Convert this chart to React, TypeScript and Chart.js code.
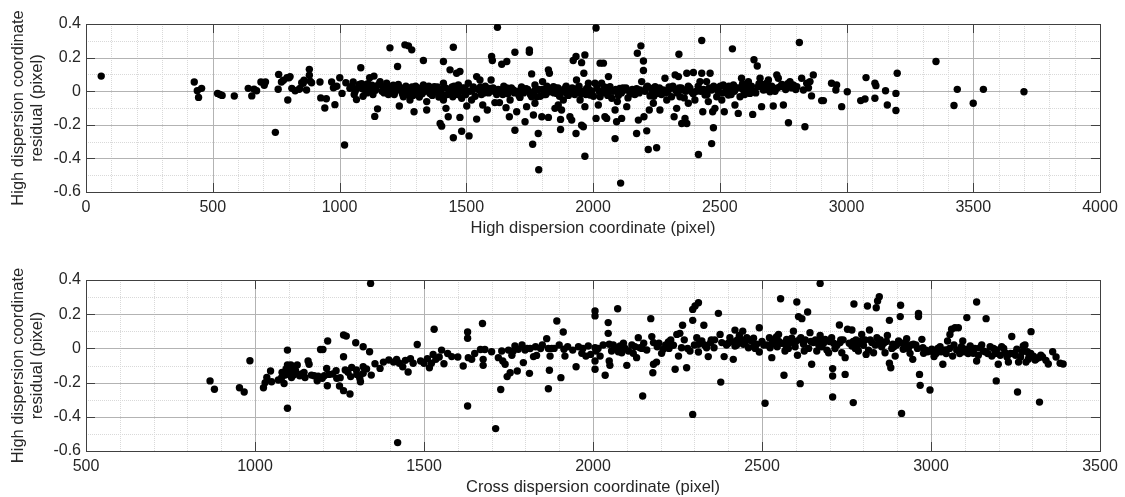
import React, { useEffect, useRef } from "react";
import { Chart, registerables } from "chart.js";

Chart.register(...registerables);

// ---------- DATA ----------
const topXTicks = [0, 500, 1000, 1500, 2000, 2500, 3000, 3500, 4000];
const bottomXTicks = [500, 1000, 1500, 2000, 2500, 3000, 3500];
const yTicks = [-0.6, -0.4, -0.2, 0, 0.2, 0.4];

const topTitleX = "High dispersion coordinate (pixel)";
const bottomTitleX = "Cross dispersion coordinate (pixel)";
const titleY = ["High dispersion coordinate", "residual (pixel)"];

// top panel: [high dispersion coordinate, residual]
const topResiduals: [number, number][] = [
  [60, 0.09], [427, 0.055], [439, 0.003], [444, -0.037], [456, 0.017], [519, -0.013], [528, -0.02], [537, -0.025],
  [585, -0.029], [640, 0.017], [654, -0.028], [663, 0.012], [673, 0.003], [690, 0.055], [703, 0.035], [708, 0.055],
  [747, -0.245], [760, 0.1], [758, 0.012], [771, 0.055], [779, 0.065], [793, 0.08], [796, -0.052], [801, 0.08],
  [812, 0.017], [825, 0.003], [841, 0.012], [851, 0.05], [860, 0.065], [870, 0.007], [881, 0.13], [881, 0.095],
  [890, 0.05], [884, 0.06], [923, 0.055], [926, -0.04], [942, -0.1], [948, -0.045], [969, 0.055], [982, -0.08],
  [976, 0.02], [989, 0.03], [1001, 0.08], [1010, -0.013], [1020, -0.32], [1025, 0.05], [1041, 0.017], [1054, 0.055],
  [1067, -0.05], [1084, 0.14], [1087, 0.045], [1093, -0.03], [1106, 0.025], [1119, 0.08], [1132, -0.02], [1139, -0.15],
  [1150, -0.105], [805, 0.087], [844, 0.017], [857, 0.047], [982, 0.027], [1081, 0.027], [1101, 0.037], [1114, -0.003],
  [1136, 0.09], [1160, 0.057], [1173, 0.027], [1186, 0.047], [1199, 0.258], [1206, 0.017], [1219, -0.003], [1229, 0.147],
  [1236, -0.088], [1252, -0.033], [1258, 0.276], [1272, 0.27], [1285, 0.246], [1265, -0.003], [1278, -0.052], [1294, -0.122],
  [1304, -0.013], [1331, 0.183], [1331, 0.037], [1344, -0.062], [1344, -0.112], [1357, -0.013], [1374, 0.027], [1397, -0.192],
  [1403, -0.208], [1410, 0.177], [1410, 0.047], [1410, -0.052], [1420, -0.102], [1429, -0.152], [1436, 0.127], [1449, 0.262],
  [1449, -0.277], [1447, -0.033], [1456, -0.003], [1462, 0.107], [1469, 0.037], [1475, 0.117], [1475, -0.156], [1482, -0.238],
  [1482, -0.042], [1489, -0.003], [1502, -0.088], [1508, 0.047], [1511, -0.266], [1521, -0.052], [1541, 0.087], [1541, -0.166],
  [1554, 0.067], [1567, 0.007], [1565, -0.082], [1583, -0.112], [1594, 0.017], [1598, 0.067], [1600, 0.207], [1603, 0.183],
  [1613, -0.068], [1623, 0.38], [1631, -0.068], [1640, 0.16], [1653, 0.007], [1660, 0.177], [1657, -0.098], [1670, -0.152],
  [1673, -0.052], [1686, 0.007], [1692, 0.232], [1692, -0.232], [1699, -0.122], [1712, -0.037], [1732, -0.182], [1738, -0.092],
  [1749, 0.246], [1749, 0.232], [1758, 0.103], [1762, -0.316], [1765, -0.142], [1771, 0.037], [1778, -0.033], [1784, -0.252],
  [1786, -0.468], [1758, -0.033], [1771, -0.072], [1798, -0.152], [1801, 0.057], [1811, 0.007], [1824, -0.156], [1824, 0.127],
  [1828, 0.107], [1830, -0.003], [1844, 0.027], [1850, -0.102], [1857, -0.013], [1863, -0.082], [1872, -0.168], [1876, -0.112],
  [1872, -0.228], [1883, -0.052], [1896, -0.013], [1909, -0.152], [1916, -0.172], [1922, 0.183], [1933, 0.207], [1933, -0.252],
  [1935, 0.067], [1942, -0.003], [1949, -0.052], [1955, 0.17], [1955, -0.202], [1962, -0.212], [1964, 0.107], [1968, 0.216],
  [1968, -0.387], [1968, -0.092], [1975, 0.017], [1982, 0.047], [1988, -0.023], [2008, 0.047], [2012, 0.376], [2012, -0.162],
  [2028, 0.167], [2034, 0.047], [2041, 0.167], [2021, -0.082], [2028, -0.033], [2047, -0.152], [2054, -0.162], [2061, 0.087],
  [2067, 0.027], [2074, -0.042], [2087, -0.282], [2087, -0.112], [2093, -0.182], [2096, -0.062], [2106, 0.017], [2109, -0.547],
  [2113, -0.162], [2126, 0.007], [2133, -0.092], [2146, -0.013], [2172, -0.252], [2175, 0.226], [2179, -0.172], [2189, 0.27],
  [2185, 0.007], [2192, 0.057], [2199, 0.18], [2199, 0.123], [2201, -0.152], [2212, -0.236], [2218, -0.347], [2222, -0.112],
  [2225, -0.028], [2231, 0.017], [2238, -0.072], [2245, 0.027], [2251, -0.337], [2258, -0.013], [2264, -0.112], [2277, 0.007],
  [2284, 0.077], [2291, -0.052], [2304, 0.017], [2310, -0.033], [2320, -0.152], [2324, 0.097], [2330, -0.102], [2339, 0.22],
  [2337, 0.087], [2343, -0.033], [2350, -0.192], [2356, 0.007], [2363, -0.162], [2370, -0.192], [2370, 0.107], [2376, -0.072],
  [2389, -0.003], [2396, 0.111], [2402, -0.052], [2416, -0.377], [2422, 0.057], [2429, 0.302], [2429, 0.107], [2433, -0.122],
  [2442, -0.023], [2448, 0.057], [2455, -0.062], [2462, 0.107], [2468, 0.007], [2468, -0.312], [2475, -0.218], [2472, -0.122],
  [2481, -0.102], [2488, -0.033], [2508, -0.052], [2514, 0.037], [2518, -0.122], [2534, -0.023], [2541, 0.017], [2550, 0.252],
  [2554, 0.037], [2560, -0.082], [2573, -0.132], [2580, -0.033], [2586, 0.077], [2593, 0.007], [2604, 0.037], [2613, 0.057],
  [2619, -0.013], [2630, -0.138], [2635, 0.187], [2648, 0.15], [2652, 0.027], [2659, 0.077], [2665, -0.092], [2672, 0.007],
  [2685, 0.047], [2692, 0.067], [2698, -0.003], [2711, -0.088], [2725, 0.097], [2731, 0.077], [2738, 0.027], [2751, -0.082],
  [2771, -0.188], [2777, 0.057], [2790, 0.037], [2804, 0.027], [2814, 0.29], [2823, 0.077], [2830, 0.007], [2836, -0.212],
  [2843, 0.047], [2856, 0.057], [2869, 0.097], [2862, -0.028], [2902, -0.056], [2909, -0.056], [2941, 0.047], [2961, 0.037],
  [2958, 0.007], [2981, -0.092], [3003, -0.003], [3056, -0.056], [3073, -0.046], [3077, 0.081], [3112, 0.047], [3116, 0.033],
  [3112, -0.042], [3154, 0.003], [3161, -0.082], [3195, -0.013], [3195, -0.115], [3200, 0.107], [3353, 0.177], [3424, -0.085],
  [3437, 0.011], [3500, -0.072], [3540, 0.011], [3700, -0.003],
  [1048, 0.03], [1062, 0.0], [1072, 0.02], [1098, 0.01], [1112, 0.045], [1124, 0.015], [1146, 0.03], [1168, 0.0],
  [1180, 0.02], [1193, -0.02], [1212, 0.035], [1226, 0.01], [1242, 0.02], [1248, -0.015], [1262, 0.03], [1280, 0.0],
  [1290, -0.025], [1300, 0.03], [1315, -0.035], [1322, 0.01], [1338, 0.0], [1352, 0.03], [1366, -0.025], [1382, 0.0],
  [1392, -0.035], [1402, 0.01], [1418, 0.02], [1426, -0.02], [1440, 0.0], [1452, 0.03], [1466, -0.02], [1478, 0.01],
  [1495, 0.02], [1515, 0.0], [1528, 0.025], [1535, -0.03], [1548, 0.01], [1560, -0.02], [1575, 0.03], [1588, -0.01],
  [1606, 0.02], [1620, -0.02], [1635, 0.0], [1648, 0.03], [1664, -0.015], [1678, 0.02], [1705, 0.0], [1718, 0.025],
  [1726, -0.01], [1742, 0.01], [1753, -0.02], [1785, 0.01], [1792, -0.03], [1808, -0.02], [1818, 0.03], [1837, 0.0],
  [1852, 0.02], [1868, -0.03], [1888, 0.015], [1903, -0.025], [1918, 0.02], [1928, -0.02], [1945, 0.03], [1958, 0.0],
  [1995, 0.0], [2002, -0.03], [2016, 0.02], [2036, -0.01], [2052, 0.01], [2080, 0.0], [2100, -0.025], [2118, 0.02],
  [2138, -0.04], [2155, 0.01], [2165, -0.02], [2205, 0.0], [2215, 0.03], [2240, -0.03], [2252, 0.01], [2270, -0.02],
  [2296, 0.0], [2315, 0.03], [2333, -0.01], [2348, 0.02], [2360, -0.04], [2382, 0.02], [2408, 0.0], [2415, 0.03],
  [2436, 0.01], [2450, -0.02], [2476, 0.03], [2494, 0.0], [2502, 0.03], [2526, 0.01], [2545, -0.02], [2566, 0.02],
  [2598, -0.02], [2608, 0.01], [2625, 0.03], [2642, -0.01], [2668, 0.04], [2680, 0.01], [2705, 0.03], [2718, 0.0],
  [2745, 0.04], [2760, 0.01], [2783, 0.02],
  [1058, -0.02], [1078, 0.04], [1090, 0.015], [1108, -0.01], [1128, 0.035], [1142, 0.005], [1155, 0.04], [1176, -0.01],
  [1190, 0.03], [1202, 0.005], [1216, -0.02], [1232, 0.04], [1245, 0.0], [1256, 0.015], [1270, -0.02], [1286, 0.025],
  [1296, 0.005], [1310, 0.02], [1326, -0.015], [1334, 0.025], [1347, 0.01], [1360, 0.015], [1372, -0.005], [1386, 0.025],
  [1398, -0.01], [1414, -0.025], [1432, 0.01], [1444, 0.025], [1459, -0.015], [1472, 0.015], [1486, 0.02], [1498, -0.02],
  [1524, 0.005], [1556, 0.025], [1570, -0.01], [1580, 0.005], [1610, 0.0], [1626, 0.01], [1644, -0.02], [1660, 0.02],
  [1690, -0.01], [1708, -0.025], [1736, 0.015], [1768, 0.0], [1800, 0.01], [1814, -0.02], [1846, -0.01], [1862, 0.02],
  [1880, -0.005], [1894, 0.03], [1912, 0.0], [1938, 0.015], [1952, -0.015], [1972, -0.02], [1985, 0.01], [2024, 0.0],
  [2045, 0.025], [2058, -0.025], [2070, 0.0], [2090, 0.01], [2112, -0.01], [2130, 0.02], [2150, -0.015], [2172, 0.015],
  [2182, -0.01], [2210, 0.02], [2232, -0.015], [2262, 0.02], [2286, -0.01], [2300, 0.025], [2326, 0.005], [2340, 0.02],
  [2366, 0.0], [2376, 0.03], [2395, -0.015], [2425, 0.0], [2458, 0.02], [2485, 0.015], [2512, -0.01], [2536, 0.03],
  [2558, 0.0], [2576, 0.02], [2590, 0.045], [2615, 0.02], [2634, 0.0], [2655, 0.045], [2675, 0.03], [2695, 0.02],
  [2728, 0.02], [2755, 0.03], [2768, 0.045], [2800, 0.01], [2850, 0.02],
];

// bottom panel: [cross dispersion coordinate, residual]
const bottomResiduals: [number, number][] = [
  [867, -0.19], [880, -0.239], [954, -0.23], [968, -0.255], [985, -0.072], [1025, -0.23], [1030, -0.2], [1035, -0.17],
  [1046, -0.132], [1049, -0.195], [1069, -0.185], [1079, -0.17], [1086, -0.205], [1089, -0.156], [1096, -0.01], [1096, -0.35],
  [1096, -0.097], [1099, -0.136], [1104, -0.156], [1106, -0.097], [1112, -0.122], [1114, -0.156], [1125, -0.097], [1138, -0.15],
  [1148, -0.17], [1157, -0.074], [1160, -0.093], [1167, -0.156], [1184, -0.189], [1187, -0.162], [1194, -0.006], [1201, -0.006],
  [1199, -0.175], [1212, -0.117], [1215, 0.043], [1214, -0.218], [1219, -0.152], [1242, -0.175], [1250, -0.22], [1252, -0.171],
  [1262, -0.049], [1262, 0.078], [1270, 0.072], [1262, -0.247], [1267, -0.126], [1281, -0.267], [1283, -0.165], [1286, -0.111],
  [1298, 0.033], [1300, -0.126], [1310, -0.175], [1312, -0.195], [1320, -0.107], [1320, 0.01], [1320, -0.146], [1339, -0.02],
  [1342, 0.38], [1344, -0.156], [1370, -0.117], [1301, -0.152], [1396, -0.068], [1419, -0.064], [1422, -0.551], [1427, -0.087],
  [1437, -0.107], [1453, -0.138], [1468, -0.087], [1480, 0.023], [1490, -0.074], [1500, -0.087], [1516, -0.113], [1522, -0.087],
  [1527, -0.035], [1530, 0.112], [1535, -0.064], [1552, -0.01], [1559, -0.09], [1582, -0.048], [1616, -0.103], [1629, -0.337],
  [1629, 0.096], [1629, 0.059], [1631, -0.054], [1641, -0.064], [1673, 0.146], [1667, -0.006], [1680, -0.006], [1675, -0.064],
  [1675, -0.099], [1712, -0.469], [1727, -0.24], [1720, -0.054], [1730, -0.015], [1733, -0.074], [1740, -0.093], [1746, -0.165],
  [1755, -0.142], [1764, -0.015], [1769, 0.014], [1776, -0.132], [1779, -0.005], [1794, -0.083], [1799, -0.009], [1812, -0.146],
  [1814, -0.001], [1824, -0.048], [1833, -0.041], [1845, -0.001], [1863, 0.057], [1868, -0.001], [1868, -0.236], [1871, -0.128],
  [1873, -0.045], [1878, -0.001], [1893, 0.16], [1905, -0.171], [1912, 0.096], [1914, -0.005], [1917, -0.045], [1950, -0.107],
  [1957, 0.01], [1967, -0.029], [1979, -0.045], [1986, 0.014], [1993, -0.035], [2006, 0.219], [2006, 0.19], [2006, 0.004],
  [2006, -0.074], [2006, -0.122], [2009, -0.015], [2021, -0.045], [2036, -0.157], [2045, 0.151], [2045, 0.088], [2048, 0.024],
  [2048, -0.074], [2050, -0.099], [2055, -0.015], [2065, 0.004], [2073, 0.232], [2080, 0.014], [2085, -0.025], [2090, 0.03],
  [2100, -0.099], [2105, -0.015], [2119, -0.029], [2124, 0.01], [2129, -0.054], [2134, 0.063], [2139, 0.004], [2147, -0.278],
  [2159, -0.009], [2171, 0.174], [2174, 0.069], [2177, -0.142], [2179, 0.034], [2179, -0.093], [2188, -0.08], [2203, -0.029],
  [2208, -0.005], [2223, 0.038], [2230, 0.049], [2238, 0.018], [2243, -0.122], [2248, 0.082], [2253, -0.045], [2257, 0.088],
  [2262, 0.004], [2265, 0.135], [2277, -0.113], [2287, -0.015], [2295, 0.228], [2295, 0.164], [2295, -0.386], [2302, 0.248],
  [2312, 0.267], [2307, 0.063], [2312, 0.024], [2312, -0.021], [2322, 0.043], [2328, 0.135], [2336, 0.004], [2341, -0.048],
  [2348, 0.034], [2358, 0.004], [2371, 0.205], [2376, 0.082], [2378, -0.197], [2381, 0.034], [2388, -0.048], [2405, 0.063],
  [2415, -0.064], [2420, 0.107], [2420, 0.014], [2427, 0.049], [2433, 0.076], [2437, 0.034], [2443, 0.101], [2445, 0.024],
  [2455, 0.063], [2460, 0.004], [2470, 0.043], [2476, 0.01], [2484, 0.024], [2492, 0.121], [2492, -0.021], [2509, -0.321],
  [2522, 0.063], [2529, -0.054], [2524, 0.004], [2543, 0.069], [2555, 0.29], [2539, 0.024], [2549, 0.082], [2565, -0.157],
  [2568, -0.015], [2573, 0.053], [2583, 0.034], [2593, 0.101], [2598, 0.01], [2603, 0.271], [2605, -0.04], [2608, 0.186],
  [2613, -0.206], [2615, 0.063], [2618, 0.174], [2623, 0.024], [2625, -0.015], [2635, 0.213], [2642, 0.092], [2647, -0.093],
  [2652, 0.034], [2662, -0.015], [2672, 0.38], [2672, 0.076], [2677, 0.01], [2687, 0.053], [2697, -0.025], [2706, 0.063],
  [2709, -0.118], [2709, -0.161], [2709, -0.284], [2716, -0.001], [2729, 0.137], [2731, 0.034], [2736, -0.025], [2746, -0.054],
  [2746, -0.152], [2753, 0.112], [2766, 0.108], [2766, 0.014], [2770, -0.317], [2772, 0.26], [2778, 0.049], [2785, -0.015],
  [2795, 0.082], [2800, 0.018], [2808, -0.035], [2812, 0.248], [2818, 0.108], [2825, 0.034], [2830, -0.025], [2838, 0.238],
  [2842, 0.277], [2847, 0.302], [2840, 0.063], [2854, 0.01], [2864, -0.025], [2871, 0.076], [2877, 0.164], [2877, -0.087],
  [2881, -0.113], [2887, 0.024], [2894, -0.045], [2904, 0.043], [2909, 0.186], [2910, 0.252], [2913, -0.38], [2918, -0.005],
  [2928, 0.057], [2938, -0.029], [2946, -0.064], [2948, 0.024], [2963, 0.205], [2963, 0.186], [2966, -0.152], [2968, -0.216],
  [2973, 0.053], [2976, 0.004], [2978, -0.029], [2997, -0.243], [3002, -0.005], [3009, -0.048], [3027, 0.01], [3035, -0.093],
  [3042, -0.009], [3049, 0.043], [3056, 0.082], [3061, 0.112], [3071, 0.121], [3081, 0.121], [3064, -0.045], [3076, -0.009],
  [3094, 0.043], [3101, -0.005], [3106, 0.18], [3116, 0.014], [3125, -0.029], [3135, 0.271], [3135, -0.074], [3145, 0.004],
  [3155, -0.015], [3163, 0.174], [3175, 0.01], [3180, -0.045], [3193, -0.19], [3194, -0.009], [3199, -0.093], [3209, 0.01],
  [3219, -0.025], [3229, -0.08], [3239, 0.07], [3254, -0.005], [3256, -0.255], [3259, -0.08], [3273, 0.014], [3281, -0.08],
  [3288, -0.064], [3296, 0.098], [3303, -0.045], [3318, -0.054], [3321, -0.314], [3278, 0.02], [3285, -0.02], [3308, -0.068],
  [3347, -0.091], [3360, -0.02], [3382, -0.087], [3391, -0.091],
  [2450, 0.03], [2465, 0.05], [2480, 0.0], [2500, 0.04], [2515, 0.02], [2535, 0.05], [2545, 0.01], [2558, 0.03],
  [2578, 0.0], [2588, 0.06], [2600, 0.04], [2628, 0.05], [2638, 0.0], [2658, 0.05], [2668, 0.02], [2682, 0.03],
  [2692, -0.01], [2700, 0.04], [2722, 0.02], [2740, 0.05], [2758, 0.03], [2776, 0.0], [2790, 0.04], [2805, 0.05],
  [2815, -0.01], [2835, 0.02], [2850, 0.05], [2860, 0.03], [2884, 0.0], [2898, 0.02], [2922, 0.03], [2933, 0.0],
  [2955, 0.02], [2985, -0.01], [3015, -0.03], [3020, 0.0], [3045, -0.03], [3068, 0.02], [3085, -0.03], [3090, 0.01],
  [3110, -0.03], [3130, 0.0], [3140, -0.04], [3150, 0.02], [3168, -0.03], [3185, 0.0], [3205, -0.04], [3215, 0.0],
  [3225, -0.05], [3245, -0.03], [3265, -0.05], [3270, -0.02], [3295, -0.03], [3312, -0.06], [3330, -0.05], [2360, 0.05],
  [2395, 0.02], [2410, 0.04], [2270, 0.05], [2280, 0.0], [2225, 0.0], [2195, 0.03], [2150, 0.03], [2115, 0.02],
  [2075, -0.02], [2030, 0.02], [1940, -0.01], [1900, 0.02], [1850, 0.02], [1790, 0.02], [1760, -0.04],
  [1080, -0.14], [1092, -0.12], [1108, -0.17], [1120, -0.13], [1132, -0.16], [1145, -0.14], [1175, -0.16], [1205, -0.16],
  [1230, -0.15], [1240, -0.13], [1275, -0.14], [1330, -0.12], [1355, -0.09], [1380, -0.08], [1410, -0.08], [1445, -0.07],
  [1460, -0.06], [1510, -0.06], [1545, -0.05], [1570, -0.03], [1600, -0.05], [1650, -0.03], [1700, -0.02], [1750, -0.01],
  [1805, 0.0], [1830, 0.01], [1885, 0.0], [1925, 0.01], [1970, 0.0], [2015, 0.0], [2060, 0.02], [2095, 0.0],
  [2145, 0.0], [2190, 0.01], [2215, 0.02], [2300, 0.02], [2330, 0.02], [2350, 0.05], [2400, 0.03], [2425, 0.02],
  [2440, 0.05], [2475, 0.06], [2505, 0.02], [2530, 0.03], [2550, 0.04], [2570, 0.02], [2610, 0.05], [2645, 0.04],
  [2675, 0.05], [2712, 0.03], [2733, 0.05], [2770, 0.04], [2783, 0.02], [2820, 0.05], [2845, 0.03], [2868, 0.04],
  [2890, 0.01], [2915, 0.03], [2940, 0.02], [2960, 0.0], [2990, -0.02], [3005, -0.02], [3030, -0.02], [3055, 0.0],
  [3098, -0.02], [3120, -0.01], [3160, -0.02], [3190, -0.03], [3235, -0.03], [3250, -0.04], [3290, -0.05], [3325, -0.04],
  [3340, -0.07], [3370, -0.05],
];

// ---------- STYLE ----------
const FONT = "'Liberation Sans', Arial, Helvetica, sans-serif";
const TEXT = "#262626";

const framePlugin = {
  id: "matlabFrame",
  beforeDatasetsDraw(chart: any, _args: any, opts: any) {
    const { ctx, chartArea: a, scales } = chart;
    const x = scales.x;
    const y = scales.y;
    const xMinor: number[] = opts.xMinor || [];
    const yMinor: number[] = opts.yMinor || [];
    const xMajor: number[] = opts.xMajor || [];
    const yMajor: number[] = opts.yMajor || [];
    ctx.save();
    ctx.strokeStyle = "#d9d9d9";
    ctx.lineWidth = 1;
    ctx.setLineDash([1, 1]);
    for (const v of xMinor) {
      const p = Math.round(x.getPixelForValue(v)) + 0.5;
      ctx.beginPath();
      ctx.moveTo(p, a.top);
      ctx.lineTo(p, a.bottom);
      ctx.stroke();
    }
    for (const v of yMinor) {
      const p = Math.round(y.getPixelForValue(v)) + 0.5;
      ctx.beginPath();
      ctx.moveTo(a.left, p);
      ctx.lineTo(a.right, p);
      ctx.stroke();
    }
    ctx.setLineDash([]);
    ctx.strokeStyle = "#b3b3b3";
    for (const v of xMajor) {
      const p = Math.round(x.getPixelForValue(v)) + 0.5;
      ctx.beginPath();
      ctx.moveTo(p, a.top);
      ctx.lineTo(p, a.bottom);
      ctx.stroke();
    }
    for (const v of yMajor) {
      const p = Math.round(y.getPixelForValue(v)) + 0.5;
      ctx.beginPath();
      ctx.moveTo(a.left, p);
      ctx.lineTo(a.right, p);
      ctx.stroke();
    }
    const TL = 9;
    ctx.strokeStyle = "#404040";
    for (const v of xMajor) {
      const p = Math.round(x.getPixelForValue(v)) + 0.5;
      ctx.beginPath();
      ctx.moveTo(p, a.bottom);
      ctx.lineTo(p, a.bottom - TL);
      ctx.moveTo(p, a.top);
      ctx.lineTo(p, a.top + TL);
      ctx.stroke();
    }
    for (const v of yMajor) {
      const p = Math.round(y.getPixelForValue(v)) + 0.5;
      ctx.beginPath();
      ctx.moveTo(a.left, p);
      ctx.lineTo(a.left + TL, p);
      ctx.moveTo(a.right, p);
      ctx.lineTo(a.right - TL, p);
      ctx.stroke();
    }
    ctx.strokeRect(
      Math.round(a.left) + 0.5,
      Math.round(a.top) + 0.5,
      Math.round(a.right) - Math.round(a.left),
      Math.round(a.bottom) - Math.round(a.top)
    );
    ctx.restore();
  },
};

function minorValues(min: number, max: number, step: number, every: number): number[] {
  const out: number[] = [];
  const n = Math.round((max - min) / step);
  for (let i = 0; i <= n; i++) {
    if (i % every === 0) continue;
    out.push(min + i * step);
  }
  return out;
}

function makeConfig(
  points: [number, number][],
  xTicks: number[],
  xTitle: string,
  padding: { top: number; right: number; bottom: number; left: number }
): any {
  const xMin = xTicks[0];
  const xMax = xTicks[xTicks.length - 1];
  const yMin = yTicks[0];
  const yMax = yTicks[yTicks.length - 1];
  return {
    type: "scatter",
    data: {
      datasets: [
        {
          data: points.map(([x, y]) => ({ x, y })),
          backgroundColor: "#000000",
          borderWidth: 0,
          pointRadius: 3.7,
          pointHoverRadius: 3.7,
        },
      ],
    },
    options: {
      responsive: false,
      animation: false,
      events: [],
      layout: { padding },
      plugins: {
        legend: { display: false },
        tooltip: { enabled: false },
        matlabFrame: {
          xMajor: xTicks,
          yMajor: yTicks,
          xMinor: minorValues(xMin, xMax, 100, 5),
          yMinor: minorValues(yMin, yMax, 0.1, 2),
        },
      },
      scales: {
        x: {
          type: "linear",
          min: xMin,
          max: xMax,
          afterBuildTicks: (s: any) => {
            s.ticks = xTicks.map((v) => ({ value: v }));
          },
          afterFit: (s: any) => {
            s.height = 46;
          },
          grid: { display: false, drawTicks: false },
          border: { display: false },
          ticks: {
            padding: 6,
            color: TEXT,
            font: { family: FONT, size: 16 },
            callback: (v: any) => String(v),
            maxRotation: 0,
          },
          title: {
            display: true,
            text: xTitle,
            color: TEXT,
            font: { family: FONT, size: 16.5 },
            padding: { top: 0, bottom: 0 },
          },
        },
        y: {
          type: "linear",
          min: yMin,
          max: yMax,
          afterBuildTicks: (s: any) => {
            s.ticks = yTicks.map((v) => ({ value: v }));
          },
          afterFit: (s: any) => {
            s.width = 86;
          },
          grid: { display: false, drawTicks: false },
          border: { display: false },
          ticks: {
            padding: 5,
            color: TEXT,
            font: { family: FONT, size: 16 },
            callback: (v: any) => (Math.abs(v) < 1e-9 ? "0" : Number(v).toFixed(1)),
          },
          title: {
            display: true,
            text: titleY,
            color: TEXT,
            font: { family: FONT, size: 16.5, lineHeight: 1.15 },
            padding: { top: 9, bottom: 0 },
          },
        },
      },
    },
    plugins: [framePlugin],
  };
}

function Panel(props: {
  points: [number, number][];
  xTicks: number[];
  xTitle: string;
  top: number;
  height: number;
  padding: { top: number; right: number; bottom: number; left: number };
}) {
  const ref = useRef<HTMLCanvasElement | null>(null);
  useEffect(() => {
    if (!ref.current) return;
    const chart = new Chart(ref.current, makeConfig(props.points, props.xTicks, props.xTitle, props.padding));
    return () => chart.destroy();
  }, []);
  return (
    <canvas
      ref={ref}
      width={1125}
      height={props.height}
      style={{ position: "absolute", left: 0, top: props.top, width: 1125, height: props.height, display: "block" }}
    />
  );
}

export default function App() {
  return (
    <div style={{ position: "fixed", left: 0, top: 0, width: 1125, height: 497, background: "#ffffff", overflow: "hidden" }}>
      <Panel
        points={topResiduals}
        xTicks={topXTicks}
        xTitle={topTitleX}
        top={0}
        height={250}
        padding={{ top: 24, right: 25, bottom: 12, left: 0 }}
      />
      <Panel
        points={bottomResiduals}
        xTicks={bottomXTicks}
        xTitle={bottomTitleX}
        top={250}
        height={247}
        padding={{ top: 30, right: 25, bottom: 0, left: 0 }}
      />
    </div>
  );
}
